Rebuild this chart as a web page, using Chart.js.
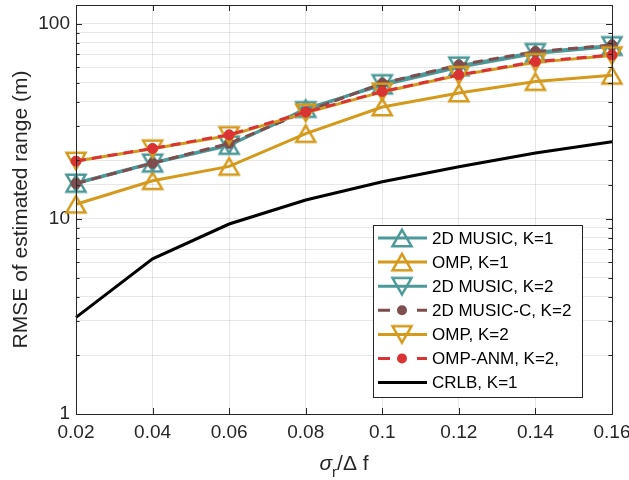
<!DOCTYPE html>
<html><head><meta charset="utf-8">
<script src="https://cdn.jsdelivr.net/npm/chart.js@4/dist/chart.umd.min.js"></script>
<style>html,body{margin:0;padding:0;background:#fff}#wrap{width:629px;height:480px}</style>
</head><body><div id="wrap"><canvas id="c" width="629" height="480"></canvas></div>
<script>
// ---- data ----
const xValues = [0.02, 0.04, 0.06, 0.08, 0.10, 0.12, 0.14, 0.16];
const music2dK1 = [15.2, 19.3, 23.8, 36.8, 48.5, 60.0, 70.5, 76.5];
const ompK1     = [11.9, 15.7, 18.6, 27.4, 37.5, 44.2, 50.6, 54.5];
const music2dK2 = [15.3, 19.4, 24.0, 36.0, 49.5, 61.0, 71.5, 77.5];
const musicCK2  = [15.2, 19.3, 24.4, 35.5, 49.6, 61.6, 72.1, 78.0];
const ompK2     = [19.8, 22.9, 26.8, 35.0, 44.8, 54.5, 63.5, 68.8];
const ompAnmK2  = [19.8, 23.0, 27.0, 35.3, 45.0, 54.8, 64.1, 69.3];
const crlbK1    = [3.13, 6.24, 9.42, 12.5, 15.5, 18.5, 21.8, 24.9];
const seriesLabels = ['2D MUSIC, K=1', 'OMP, K=1', '2D MUSIC, K=2', '2D MUSIC-C, K=2', 'OMP, K=2', 'OMP-ANM, K=2,', 'CRLB, K=1'];
const yTickLabels = [1, 10, 100];
const xTickLabels = ['0.02', '0.04', '0.06', '0.08', '0.1', '0.12', '0.14', '0.16'];
const yTitle = 'RMSE of estimated range (m)';

// ---- styles ----
const TEAL = '#4d9999', GOLD = '#d49a1c', BROWN = '#7f4d4d', RED = '#d93333', BLACK = '#000000';
const FONT = '"Liberation Sans", Arial, Helvetica, sans-serif';
const AX = '#262626';

function triangleMarker(color, up) {
  const c = document.createElement('canvas');
  c.width = 30; c.height = 30;
  const g = c.getContext('2d');
  const w = 19, h = 16.45, cx = 15, cy = 15;
  g.strokeStyle = color; g.lineWidth = 2.5; g.lineJoin = 'miter';
  g.beginPath();
  if (up) {
    g.moveTo(cx, cy - h / 2); g.lineTo(cx + w / 2, cy + h / 2); g.lineTo(cx - w / 2, cy + h / 2);
  } else {
    g.moveTo(cx, cy + h / 2); g.lineTo(cx + w / 2, cy - h / 2); g.lineTo(cx - w / 2, cy - h / 2);
  }
  g.closePath(); g.stroke();
  return c;
}

const seriesValues = [music2dK1, ompK1, music2dK2, musicCK2, ompK2, ompAnmK2, crlbK1];
const seriesStyles = [
  { color: TEAL, marker: triangleMarker(TEAL, true), dash: [] },
  { color: GOLD, marker: triangleMarker(GOLD, true), dash: [] },
  { color: TEAL, marker: triangleMarker(TEAL, false), dash: [] },
  { color: BROWN, marker: 'circle', dash: [10, 6] },
  { color: GOLD, marker: triangleMarker(GOLD, false), dash: [] },
  { color: RED, marker: 'circle', dash: [10, 6] },
  { color: BLACK, marker: false, dash: [] }
];
const N = seriesValues.length;

const datasets = seriesValues.map((vals, i) => {
  const s = seriesStyles[i];
  return {
    label: seriesLabels[i],
    data: xValues.map((x, j) => ({ x: x, y: vals[j] })),
    borderColor: s.color,
    backgroundColor: s.color,
    borderWidth: 3,
    borderDash: s.dash,
    pointStyle: s.marker || 'circle',
    pointRadius: s.marker ? (s.marker === 'circle' ? 5 : 10) : 0,
    pointHoverRadius: s.marker ? (s.marker === 'circle' ? 5 : 10) : 0,
    pointBackgroundColor: s.color,
    pointBorderColor: s.color,
    pointBorderWidth: 1,
    tension: 0,
    fill: false,
    clip: false,
    order: N - i
  };
});

const decorPlugin = {
  id: 'decor',
  afterDatasetsDraw(chart) {
    const ctx = chart.ctx, a = chart.chartArea;
    const xs = chart.scales.x, ys = chart.scales.y;
    ctx.save();
    ctx.strokeStyle = AX; ctx.lineWidth = 1;
    const tl = 6;
    ctx.beginPath();
    xs.ticks.forEach(t => {
      const px = Math.round(xs.getPixelForValue(t.value)) + 0.5;
      ctx.moveTo(px, a.bottom); ctx.lineTo(px, a.bottom - tl);
      ctx.moveTo(px, a.top); ctx.lineTo(px, a.top + tl);
    });
    ys.ticks.forEach(t => {
      const py = Math.round(ys.getPixelForValue(t.value)) + 0.5;
      const len = yTickLabels.includes(t.value) ? tl : tl * 0.6;
      ctx.moveTo(a.left, py); ctx.lineTo(a.left + len, py);
      ctx.moveTo(a.right, py); ctx.lineTo(a.right - len, py);
    });
    ctx.stroke();
    ctx.strokeRect(Math.round(a.left) + 0.5, Math.round(a.top) + 0.5, Math.round(a.right - a.left), Math.round(a.bottom - a.top));
    ctx.restore();
  },
  afterDraw(chart) {
    const ctx = chart.ctx, a = chart.chartArea;
    ctx.save();
    // legend
    const L = { x: 373, y: 225, w: 209, h: 172 };
    ctx.fillStyle = '#fff';
    ctx.fillRect(L.x, L.y, L.w, L.h);
    ctx.strokeStyle = AX; ctx.lineWidth = 1;
    ctx.strokeRect(L.x + 0.5, L.y + 0.5, L.w, L.h);
    chart.data.datasets.forEach((ds, i) => {
      const cy = 238 + i * 24.1;
      ctx.beginPath();
      ctx.setLineDash(ds.borderDash && ds.borderDash.length ? [12, 27, 12] : []);
      ctx.strokeStyle = ds.borderColor; ctx.lineWidth = ds.borderWidth;
      ctx.moveTo(378, cy); ctx.lineTo(427, cy); ctx.stroke();
      ctx.setLineDash([]);
      if (ds.pointStyle instanceof HTMLCanvasElement) {
        ctx.drawImage(ds.pointStyle, 402 - ds.pointStyle.width / 2, cy - ds.pointStyle.height / 2);
      } else if (ds.pointRadius > 0) {
        ctx.beginPath(); ctx.fillStyle = ds.pointBackgroundColor;
        ctx.arc(402, cy, ds.pointRadius, 0, Math.PI * 2); ctx.fill();
      }
      ctx.fillStyle = '#000'; ctx.font = '17px ' + FONT; ctx.textBaseline = 'middle'; ctx.textAlign = 'left';
      ctx.fillText(ds.label, 432, cy + 1);
    });
    // y title
    ctx.fillStyle = AX;
    ctx.font = '21px ' + FONT;
    ctx.translate(21, (a.top + a.bottom) / 2);
    ctx.rotate(-Math.PI / 2);
    ctx.textAlign = 'center'; ctx.textBaseline = 'middle';
    ctx.fillText(yTitle, 0, 0);
    ctx.setTransform(1, 0, 0, 1, 0, 0);
    // x title: sigma_r / Delta f
    const base = 470;
    const cxm = (a.left + a.right) / 2;
    const f1 = 'italic 21px ' + FONT, f2 = '15px ' + FONT, f3 = '21px ' + FONT;
    ctx.textAlign = 'left'; ctx.textBaseline = 'alphabetic';
    ctx.font = f1; const w1 = ctx.measureText('σ').width;
    ctx.font = f2; const w2 = ctx.measureText('r').width;
    ctx.font = f3; const w3 = ctx.measureText('/Δ f').width;
    let xx = cxm - (w1 + w2 + w3) / 2;
    ctx.font = f1; ctx.fillText('σ', xx, base); xx += w1;
    ctx.font = f2; ctx.fillText('r', xx, base + 7); xx += w2;
    ctx.font = f3; ctx.fillText('/Δ f', xx, base);
    ctx.restore();
  }
};

new Chart(document.getElementById('c'), {
  type: 'line',
  data: { datasets: datasets },
  options: {
    responsive: false,
    animation: false,
    devicePixelRatio: 1,
    layout: { autoPadding: false, padding: { left: 0, right: 17, top: 5, bottom: 0 } },
    plugins: { legend: { display: false }, tooltip: { enabled: false } },
    scales: {
      x: {
        type: 'linear',
        min: xValues[0], max: xValues[xValues.length - 1],
        afterBuildTicks: s => { s.ticks = xValues.map(v => ({ value: v })); },
        ticks: {
          autoSkip: false, maxRotation: 0, padding: 7,
          color: AX, font: { family: FONT, size: 19 },
          callback: (v, i) => xTickLabels[i]
        },
        grid: { color: 'rgba(38,38,38,0.11)', drawTicks: false },
        border: { color: AX, width: 1 },
        afterFit: s => { s.height = 66; s.paddingLeft = 0; s.paddingRight = 0; }
      },
      y: {
        type: 'logarithmic',
        min: 1, max: 125,
        ticks: {
          autoSkip: false, padding: 6,
          color: AX, font: { family: FONT, size: 19 },
          callback: v => yTickLabels.includes(v) ? String(v) : ''
        },
        grid: { color: 'rgba(38,38,38,0.11)', drawTicks: false },
        border: { color: AX, width: 1 },
        afterFit: s => { s.width = 76; s.paddingTop = 0; s.paddingBottom = 0; }
      }
    }
  },
  plugins: [decorPlugin]
});
</script>
</body></html>
